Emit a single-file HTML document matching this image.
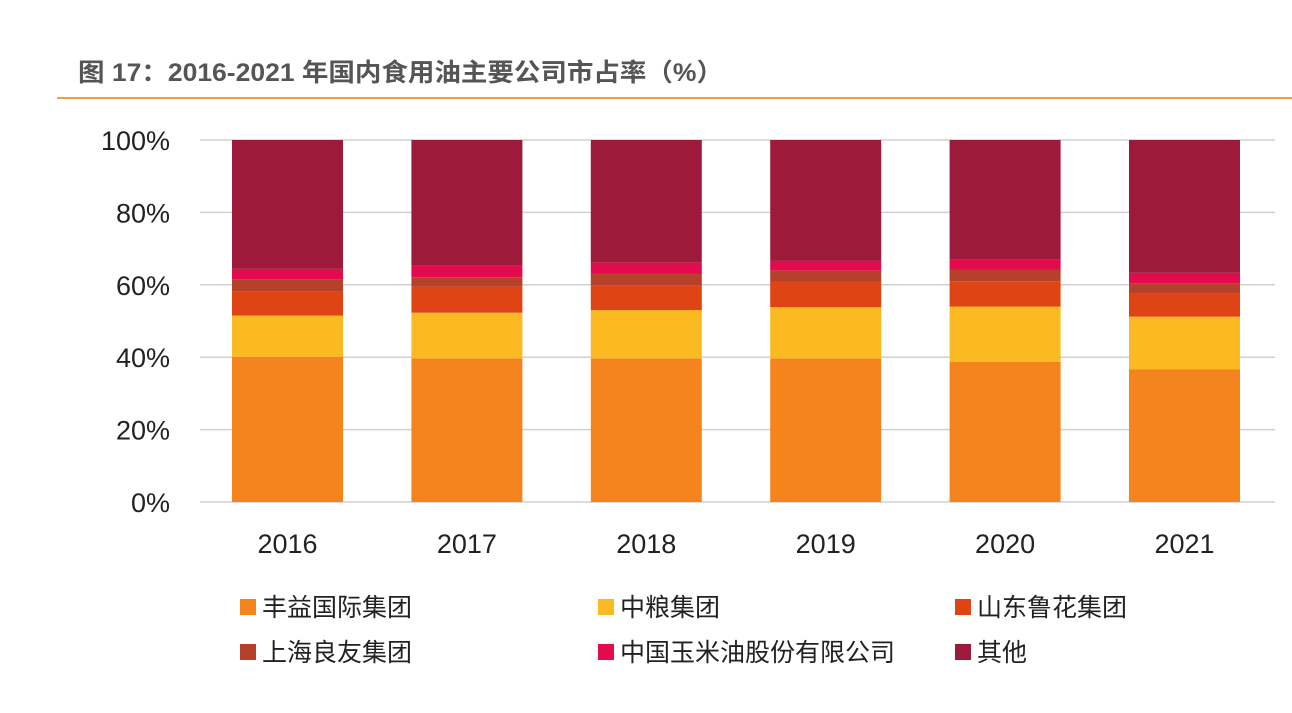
<!DOCTYPE html>
<html><head><meta charset="utf-8"><style>
body{margin:0;background:#fff;width:1292px;height:708px;overflow:hidden;font-family:"Liberation Sans","Noto Sans CJK SC",sans-serif}
</style></head><body>
<svg width="1292" height="708">
<text x="78" y="81" font-size="25" fill="#555" font-weight="bold" textLength="645" lengthAdjust="spacingAndGlyphs" font-family="Liberation Sans, Noto Sans CJK SC, sans-serif">图 17：2016-2021 年国内食用油主要公司市占率（%）</text>
<line x1="57" y1="98" x2="1292" y2="98" stroke="#F0A040" stroke-width="2"/>
<g id="grid"></g><g id="bars"></g><g id="legend"></g>
</svg>
<script>
const years=["2016","2017","2018","2019","2020","2021"];
const names=["丰益国际集团","中粮集团","山东鲁花集团","上海良友集团","中国玉米油股份有限公司","其他"];
const s0=[40.1,39.7,39.7,39.7,38.7,36.7];
const s1=[11.4,12.6,13.3,14.1,15.3,14.5];
const s2=[6.6,7.2,6.9,7.1,7.0,6.3];
const s3=[3.4,2.6,3.1,3.0,3.1,2.9];
const s4=[2.9,3.2,3.1,2.7,2.8,2.9];
const s5=[35.6,34.7,33.9,33.4,33.1,36.7];
const ticks=[0,20,40,60,80,100];
const series=[s0,s1,s2,s3,s4,s5];
const colors=["#F5841F","#FBBA21","#DF4414","#B5412B","#E30B4D","#9E1A3A"];
const NS="http://www.w3.org/2000/svg";
const y=v=>502-3.62*v;
const xc=i=>287.5+179.4*i;
function mk(t,a,p){const e=document.createElementNS(NS,t);for(const k in a)e.setAttribute(k,a[k]);p.appendChild(e);return e;}
const grid=document.getElementById('grid');
ticks.forEach(t=>{
 const l=mk('line',{x1:200,x2:1275,y1:y(t),y2:y(t),stroke:'#d0d0d0','stroke-width':1.5},grid);
 
 
 const tx=mk('text',{x:170,y:y(t)+10,'text-anchor':'end','font-size':27,fill:'#222'},grid);
 tx.textContent=t+'%';
 
 
});
const bars=document.getElementById('bars');
years.forEach((yr,i)=>{
 let c=0;
 series.forEach((s,k)=>{
  const r=mk('rect',{x:xc(i)-55.5,width:111,y:y(c+s[i]),height:3.62*s[i],fill:colors[k]},bars);
  
  
  c+=s[i];
 });
 const t=mk('text',{x:xc(i),y:553,'text-anchor':'middle','font-size':27,fill:'#222'},bars);
 t.textContent=yr;
 
 
});
const lg=document.getElementById('legend');
const lx=[240,598,955],ly=[607,652];
names.forEach((n,k)=>{
 const X=lx[k%3],Y=ly[Math.floor(k/3)];
 const r=mk('rect',{x:X,y:Y-8,width:16,height:16,fill:colors[k]},lg);
 
 
 const t=mk('text',{x:X+22,y:Y+9,'font-size':25,fill:'#222'},lg);
 t.textContent=n;
 
 
});
</script>
</body></html>
